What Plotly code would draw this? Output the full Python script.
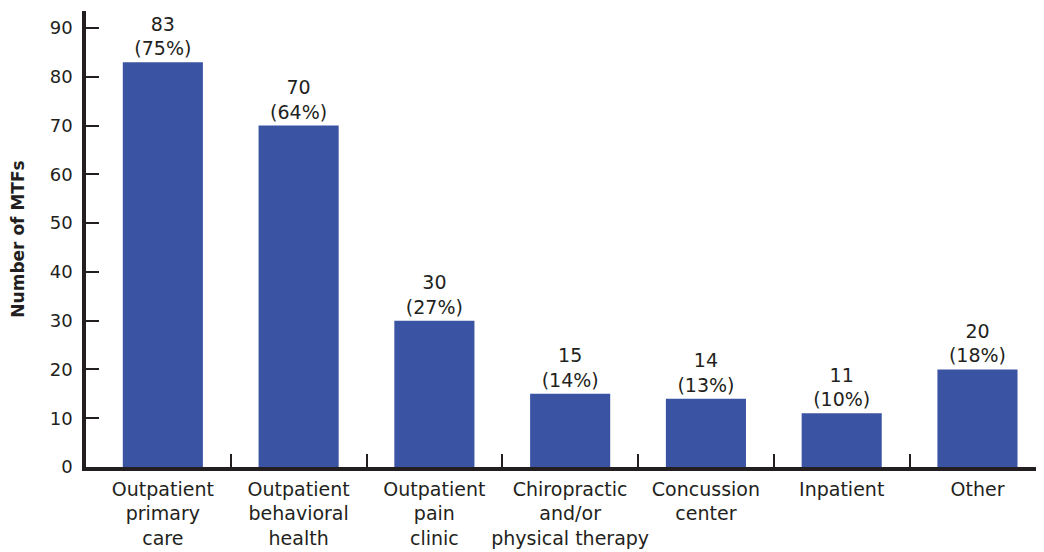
import plotly.graph_objects as go

categories = ["Outpatient<br>primary<br>care", "Outpatient<br>behavioral<br>health",
              "Outpatient<br>pain<br>clinic", "Chiropractic<br>and/or<br>physical therapy",
              "Concussion<br>center", "Inpatient", "Other"]
counts = [83, 70, 30, 15, 14, 11, 20]
percents = [75, 64, 27, 14, 13, 10, 18]
y_ticks = [0, 10, 20, 30, 40, 50, 60, 70, 80, 90]

labels = [f"{c}<br>({p}%)" for c, p in zip(counts, percents)]
FONT = "DejaVu Sans"
TXT = "#231f20"
BAR = "#3a53a3"

fig = go.Figure()
fig.add_trace(go.Bar(
    x=list(range(len(categories))), y=counts, width=0.59,
    marker=dict(color=BAR, line=dict(width=0)),
    text=labels, textposition="outside", cliponaxis=False,
    textfont=dict(family=FONT, size=19, color=TXT),
    showlegend=False, hoverinfo="skip",
))
# invisible trace to carry the boundary-tick axis
fig.add_trace(go.Scatter(x=[0], y=[0], xaxis="x2", mode="markers",
                         marker=dict(opacity=0), showlegend=False, hoverinfo="skip"))

xr = [-0.566, 6.49]
fig.update_layout(
    width=1036, height=544,
    margin=dict(l=78, r=0, t=3, b=85),
    paper_bgcolor="white", plot_bgcolor="white",
    font=dict(family=FONT, size=18, color=TXT),
    uniformtext=dict(minsize=18, mode="show"),
    xaxis=dict(
        range=xr, tickvals=list(range(len(categories))), ticktext=categories,
        ticks="", showgrid=False, zeroline=False, automargin=False, tickangle=0,
        showline=True, linecolor="#231f20", linewidth=3.5,
        tickfont=dict(family=FONT, size=19, color=TXT),
        ticklabelstandoff=2,
    ),
    xaxis2=dict(
        range=xr, overlaying="x", anchor="y", side="bottom",
        tickvals=[0.5, 1.5, 2.5, 3.5, 4.5, 5.5], showticklabels=False,
        ticks="inside", ticklen=13, tickwidth=1.5, tickcolor="#231f20",
        showgrid=False, zeroline=False, showline=False, automargin=False,
    ),
    yaxis=dict(
        range=[0, 93.5], tickvals=y_ticks, automargin=False,
        ticks="inside", ticklen=13, tickwidth=1.5, tickcolor="#231f20",
        showgrid=False, zeroline=False,
        showline=True, linecolor="#231f20", linewidth=3.5,
        tickfont=dict(family=FONT, size=18, color=TXT),
        ticklabelstandoff=6,
        title=dict(text="<b>Number of MTFs</b>", font=dict(family=FONT, size=17, color=TXT), standoff=25),
    ),
    bargap=0.4,
)

fig.write_html("out.html")
